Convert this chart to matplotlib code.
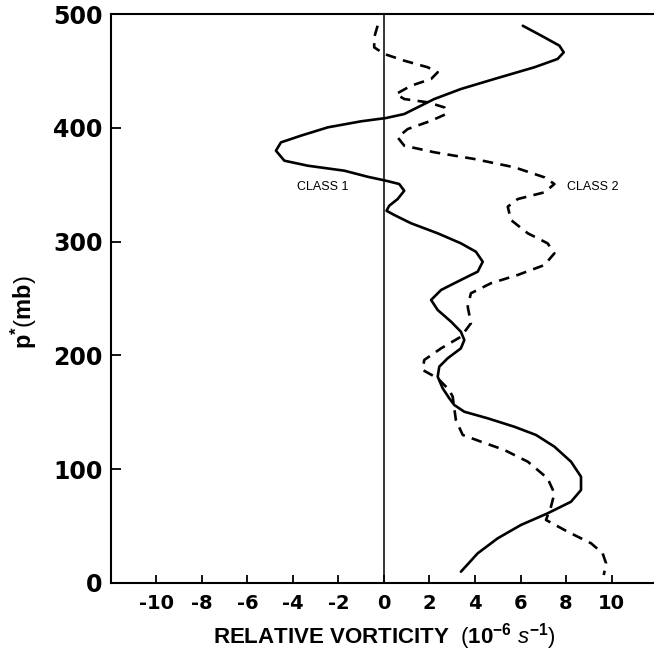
import matplotlib
matplotlib.use("Agg")
from matplotlib import pyplot as plt

# vertical profiles: p* (mb) and relative vorticity (1e-6 s-1)
class1_p = [489.7, 479.5, 472.2, 466.3, 460.5, 453.2, 442.9, 434.1, 425.3,
            418.0, 412.1, 408.6, 405.7, 400.4, 393.1, 387.2, 379.9, 371.1,
            366.7, 362.3, 357.0, 353.5, 350.6, 344.7, 337.4, 331.5, 327.1,
            323.4, 316.1, 307.3, 298.5, 291.1, 282.3, 273.6, 266.3, 257.5,
            248.7, 239.9, 229.6, 220.8, 213.5, 206.2, 197.5, 190.1, 181.3,
            171.1, 162.3, 156.4, 150.5, 144.7, 137.3, 130.1, 119.8, 106.6,
            93.4, 81.7, 71.4, 61.2, 51.0, 39.3, 26.1, 9.9]
class1_v = [6.10, 7.05, 7.71, 7.90, 7.63, 6.61, 4.85, 3.38, 2.21,
            1.48, 0.89, 0.09, -1.01, -2.47, -3.65, -4.53, -4.75, -4.38,
            -3.35, -1.74, -0.72, 0.09, 0.67, 0.89, 0.60, 0.23, 0.11,
            0.45, 1.19, 2.36, 3.38, 4.04, 4.34, 4.12, 3.38, 2.51,
            2.07, 2.36, 2.95, 3.38, 3.53, 3.38, 2.80, 2.43, 2.36,
            2.58, 2.87, 3.09, 3.53, 4.56, 5.73, 6.68, 7.49, 8.22,
            8.66, 8.66, 8.22, 7.19, 6.02, 5.00, 4.12, 3.38]

class2_p = [489.7, 479.5, 470.7, 464.9, 459.0, 453.2, 448.8, 442.9, 437.0,
            429.7, 425.3, 422.4, 418.0, 412.1, 406.2, 398.9, 391.6, 384.3,
            378.5, 372.6, 365.3, 356.5, 350.6, 343.3, 337.4, 330.7, 319.0,
            307.3, 298.5, 289.7, 279.4, 270.7, 263.4, 254.6, 242.8, 228.2,
            216.4, 206.2, 196.0, 187.2, 179.9, 169.6, 163.7, 143.2, 130.1,
            124.2, 116.9, 106.6, 92.0, 78.8, 67.0, 55.4, 45.1, 34.9, 26.1,
            17.3, 7.0]
class2_v = [-0.28, -0.43, -0.43, 0.01, 0.89, 1.92, 2.36, 2.07, 1.19,
            0.53, 0.89, 1.92, 2.65, 2.73, 2.07, 1.04, 0.60, 0.89,
            2.21, 3.97, 5.73, 7.05, 7.49, 7.05, 5.88, 5.44, 5.58,
            6.32, 7.19, 7.49, 7.05, 5.88, 4.70, 3.82, 3.68, 3.82,
            3.38, 2.51, 1.77, 1.70, 2.36, 2.87, 3.02, 3.16, 3.46,
            4.26, 5.29, 6.32, 7.19, 7.49, 7.34, 7.12, 8.07, 9.10, 9.61,
            9.76, 9.66]

xticks = [-10, -8, -6, -4, -2, 0, 2, 4, 6, 8, 10]
xticklabels = ["-10", "-8", "-6", "-4", "-2", "0", "2", "4", "6", "8", "10"]
yticks = [0, 100, 200, 300, 400, 500]

plt.rcParams["mathtext.fontset"] = "custom"
plt.rcParams["mathtext.rm"] = "Liberation Sans"
plt.rcParams["mathtext.bf"] = "Liberation Sans:bold"
plt.rcParams["mathtext.it"] = "Liberation Sans:italic"

fig = plt.figure(figsize=(6.54, 6.58), dpi=100)
ax = fig.add_axes([0.1697, 0.1140, 0.8349, 0.8647])

ax.plot(class1_v, class1_p, color="black", lw=1.9,
        solid_capstyle="round", solid_joinstyle="round")
ax.plot(class2_v, class2_p, color="black", lw=1.9, linestyle=(0, (4, 2.8)),
        dash_joinstyle="round")
ax.axvline(0, color="black", lw=1.1)

ax.text(-2.68, 348, "CLASS 1", fontsize=9, ha="center", va="center",
        family="Liberation Sans")
ax.text(8.05, 348, "CLASS 2", fontsize=9, ha="left", va="center",
        family="Liberation Sans")

ax.set_xlim(-12, 12)
ax.set_ylim(0, 500)
ax.spines["right"].set_visible(False)
for s in ["left", "bottom", "top"]:
    ax.spines[s].set_linewidth(1.5)

ax.set_xticks(xticks)
ax.set_xticklabels(xticklabels, fontsize=14, fontweight="bold",
                   family="DejaVu Sans")
ax.set_yticks(yticks)
ax.set_yticklabels([str(t) for t in yticks], fontsize=17, fontweight="bold",
                   family="DejaVu Sans")
ax.tick_params(axis="x", direction="in", length=6, width=1.3, pad=8)
ax.tick_params(axis="y", direction="in", length=7, width=1.3, pad=6)

ax.set_xlabel(r"RELATIVE VORTICITY  $(\mathbf{10}^{\mathbf{-6}}\ \mathit{s}^{\mathbf{-1}})$",
              fontsize=16, fontweight="bold", family="Liberation Sans",
              labelpad=6)
fig.text(24 / 654, 1 - 312 / 658, r"$\mathbf{p}^{\mathbf{*}}(\mathbf{mb})$",
         fontsize=17, rotation=90, ha="center", va="center")

fig.savefig("out.png", dpi=100)
